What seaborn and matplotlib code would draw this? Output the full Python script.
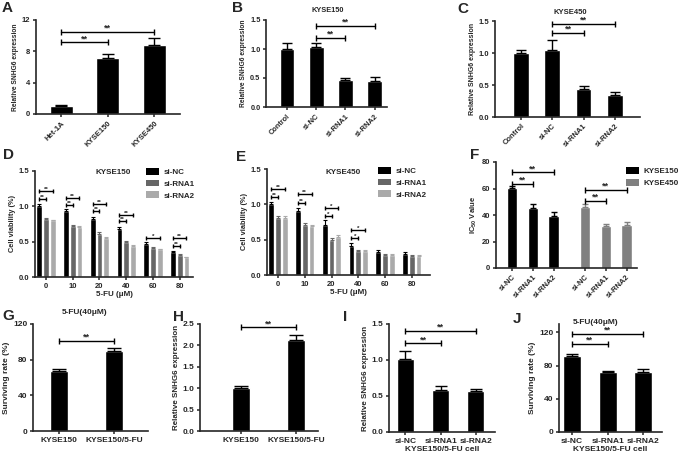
import matplotlib
matplotlib.use('Agg')
import matplotlib.pyplot as plt
from matplotlib.patches import Patch
import numpy as np
import pandas as pd
import seaborn as sns

sns.set_style('ticks')
plt.rcParams['font.family'] = ['Liberation Sans', 'DejaVu Sans']
plt.rcParams['font.weight'] = 'bold'
plt.rcParams['axes.labelweight'] = 'bold'
plt.rcParams['axes.titleweight'] = 'bold'
plt.rcParams['axes.linewidth'] = 1.2
plt.rcParams['mathtext.default'] = 'regular'

# ---- data ----
a_cells = ['Het-1A', 'KYSE150', 'KYSE450']
a_mean = [1.0, 7.2, 8.8]
a_err = [0.1, 0.5, 0.9]

si4 = ['Control', 'si-NC', 'si-RNA1', 'si-RNA2']
b_mean = [1.0, 1.04, 0.46, 0.45]
b_err = [0.11, 0.06, 0.04, 0.07]
c_mean = [1.0, 1.05, 0.44, 0.35]
c_err = [0.04, 0.16, 0.05, 0.04]

dose = ['0', '10', '20', '40', '60', '80']
si3 = ['si-NC', 'si-RNA1', 'si-RNA2']
d_nc = [1.01, 0.93, 0.82, 0.68, 0.46, 0.35]
d_r1 = [0.82, 0.72, 0.61, 0.49, 0.41, 0.31]
d_r2 = [0.80, 0.71, 0.55, 0.44, 0.39, 0.28]
d_nc_err = [0.02, 0.03, 0.03, 0.03, 0.04, 0.02]
d_r1_err = [0.01, 0.01, 0.02, 0.02, 0.01, 0.01]
d_r2_err = [0.01, 0.01, 0.01, 0.01, 0.01, 0.01]
d_sig = [(0, 1, 1.10, '**'), (0, 2, 1.22, '**'), (1, 1, 1.02, '**'), (1, 2, 1.12, '**'),
         (2, 1, 0.93, '**'), (2, 2, 1.03, '**'), (3, 1, 0.79, '**'), (3, 2, 0.88, '**'),
         (4, 2, 0.55, '*'), (5, 1, 0.44, '**'), (5, 2, 0.55, '**')]

e_nc = [1.00, 0.91, 0.71, 0.41, 0.32, 0.30]
e_r1 = [0.81, 0.71, 0.50, 0.34, 0.29, 0.27]
e_r2 = [0.80, 0.70, 0.54, 0.34, 0.29, 0.27]
e_nc_err = [0.03, 0.04, 0.07, 0.04, 0.03, 0.02]
e_r1_err = [0.02, 0.02, 0.02, 0.01, 0.01, 0.02]
e_r2_err = [0.03, 0.01, 0.02, 0.01, 0.01, 0.01]
e_sig = [(0, 1, 1.10, '**'), (0, 2, 1.21, '**'), (1, 1, 1.02, '**'), (1, 2, 1.14, '**'),
         (2, 1, 0.84, '*'), (2, 2, 0.95, '*'), (3, 1, 0.52, '*'), (3, 2, 0.63, '*')]

f_150 = [60.5, 45.0, 39.5]
f_150_err = [1.5, 3.0, 2.5]
f_450 = [46.0, 31.5, 32.5]
f_450_err = [2.5, 1.5, 2.0]

g_cells = ['KYSE150', 'KYSE150/5-FU']
g_mean = [67, 90]
g_err = [3, 3]
h_mean = [1.0, 2.12]
h_err = [0.05, 0.12]
i_mean = [1.02, 0.59, 0.57]
i_err = [0.10, 0.05, 0.03]
j_mean = [91, 72, 72]
j_err = [3, 2, 4]

W, H = 685, 457
fig = plt.figure(figsize=(W / 100, H / 100), dpi=100)


def px_ax(l, t, r, b):
    return fig.add_axes([l / W, 1 - b / H, (r - l) / W, (b - t) / H])


def ftext(x, y, s, **kw):
    fig.text(x / W, 1 - y / H, s, **kw)


def style(ax, ylim, yticks, fs, xlim=None):
    sns.despine(ax=ax)
    ax.set_ylim(ylim)
    ax.set_yticks(yticks)
    if xlim is not None:
        ax.set_xlim(xlim)
    ax.tick_params(labelsize=fs, length=2.5, width=1.1, pad=1.5)
    for lab in ax.get_xticklabels() + ax.get_yticklabels():
        lab.set_fontweight('bold')


def simple_bars(ax, cats, mean, err, cap, width=0.5):
    sns.barplot(x=cats, y=mean, color='black', width=width, saturation=1,
                errorbar=None, ax=ax)
    xs = [p.get_x() + p.get_width() / 2 for p in ax.patches]
    ax.errorbar(xs, mean, yerr=[np.zeros(len(mean)), err], fmt='none',
                ecolor='black', elinewidth=1, capsize=cap, capthick=1)
    return xs


def bracket(ax, x1, x2, y, txt, fs=6.5, ms=4):
    ax.plot([x1, x2], [y, y], color='black', lw=1, marker='|', ms=ms, mew=1,
            clip_on=False)
    ax.annotate(txt, ((x1 + x2) / 2, y), xytext=(0, -0.6), textcoords='offset points',
                ha='center', va='bottom', fontsize=fs, fontweight='bold')


def rot_labels(ax, labels, fs):
    ax.set_xticks(ax.get_xticks())
    ax.set_xticklabels(labels, rotation=45, ha='right', rotation_mode='anchor',
                       fontsize=fs, fontweight='bold')


# ---- A ----
ax = px_ax(36, 20, 180, 114)
xs = simple_bars(ax, a_cells, a_mean, a_err, cap=4.5)
style(ax, (0, 12), [0, 4, 8, 12], 5.5, xlim=(-0.54, 2.55))
rot_labels(ax, a_cells, 5.5)
ax.set_ylabel('Relative SNHG6 expression', fontsize=4.8, labelpad=2)
bracket(ax, xs[0], xs[1], 9.15, '**')
bracket(ax, xs[0], xs[2], 10.5, '**')

# ---- B ----
ax = px_ax(266, 20, 387, 107)
xs = simple_bars(ax, si4, b_mean, b_err, cap=3.5)
style(ax, (0, 1.5), [0, 0.5, 1.0, 1.5], 5.3, xlim=(-0.72, 3.42))
ax.set_yticklabels(['0.0', '0.5', '1.0', '1.5'])
rot_labels(ax, si4, 5.3)
ax.set_ylabel('Relative SNHG6 expression', fontsize=4.8, labelpad=2)
bracket(ax, xs[1], xs[2], 1.195, '**')
bracket(ax, xs[1], xs[3], 1.397, '**')
ftext(328, 11, 'KYSE150', ha='center', va='center', fontsize=5.3, fontweight='bold')

# ---- C ----
ax = px_ax(495, 21, 640, 117)
xs = simple_bars(ax, si4, c_mean, c_err, cap=3.5)
style(ax, (0, 1.5), [0, 0.5, 1.0, 1.5], 5.5, xlim=(-0.83, 3.8))
ax.set_yticklabels(['0.0', '0.5', '1.0', '1.5'])
rot_labels(ax, si4, 5.5)
ax.set_ylabel('Relative SNHG6 expression', fontsize=5, labelpad=2)
bracket(ax, xs[1], xs[2], 1.31, '**')
bracket(ax, xs[1], xs[3], 1.46, '**')
ftext(570, 13, 'KYSE450', ha='center', va='center', fontsize=5.5, fontweight='bold')


# ---- D / E ----
def dose_panel(box, nc, r1, r2, nce, r1e, r2e, sig, title, title_xy, leg_xy, xlim):
    ax = px_ax(*box)
    df = pd.DataFrame({
        'dose': dose * 3,
        'group': np.repeat(si3, len(dose)),
        'value': nc + r1 + r2,
    })
    colors = ['#000000', '#666666', '#aaaaaa']
    sns.barplot(data=df, x='dose', y='value', hue='group', order=dose, hue_order=si3,
                palette=colors, width=0.76, gap=0.15, saturation=1, errorbar=None,
                legend=False, ax=ax)
    centers = [[p.get_x() + p.get_width() / 2 for p in cont] for cont in ax.containers]
    for k, (vals, errs) in enumerate([(nc, nce), (r1, r1e), (r2, r2e)]):
        ax.errorbar(centers[k], vals, yerr=[np.zeros(len(vals)), errs], fmt='none',
                    ecolor=colors[k], elinewidth=0.8, capsize=1.5, capthick=0.8)
    for gi, hi, y, txt in sig:
        bracket(ax, centers[0][gi], centers[hi][gi], y, txt, fs=4.5, ms=3)
    style(ax, (0, 1.5), [0, 0.5, 1.0, 1.5], 5.5, xlim=xlim)
    ax.set_yticklabels(['0.0', '0.5', '1.0', '1.5'])
    ax.set_xlabel('5-FU (μM)', fontsize=5.8, labelpad=1)
    ax.set_ylabel('Cell viability (%)', fontsize=5.3, labelpad=2)
    ftext(title_xy[0], title_xy[1], title, ha='center', va='center', fontsize=5.8,
          fontweight='bold')
    handles = [Patch(facecolor=c, edgecolor='none') for c in colors]
    ax.legend(handles, si3, loc='upper left', bbox_to_anchor=(leg_xy[0] / W, 1 - leg_xy[1] / H),
              bbox_transform=fig.transFigure, frameon=False, fontsize=5.8,
              handlelength=1.6, handleheight=0.9, handletextpad=0.6, labelspacing=0.45,
              borderaxespad=0, borderpad=0)
    return ax


dose_panel((35, 171, 193, 277), d_nc, d_r1, d_r2, d_nc_err, d_r1_err, d_r2_err, d_sig,
           'KYSE150', (113, 173), (146, 168), (-0.41, 5.5))
dose_panel((267, 169, 430, 275), e_nc, e_r1, e_r2, e_nc_err, e_r1_err, e_r2_err, e_sig,
           'KYSE450', (343, 172), (378, 167), (-0.41, 5.68))

# ---- F ----
ax = px_ax(496, 162, 637, 268)
f_pos = [0, 1, 2, 3.5, 4.5, 5.5]
df_f = pd.DataFrame({
    'pos': f_pos,
    'value': f_150 + f_450,
    'line': ['KYSE150'] * 3 + ['KYSE450'] * 3,
})
f_colors = {'KYSE150': '#000000', 'KYSE450': '#808080'}
sns.barplot(data=df_f, x='pos', y='value', hue='line', native_scale=True, dodge=False,
            width=0.5, palette=f_colors, saturation=1, errorbar=None, legend=False, ax=ax)
ax.errorbar(f_pos[:3], f_150, yerr=[np.zeros(3), f_150_err], fmt='none', ecolor='black',
            elinewidth=1, capsize=2.5, capthick=1)
ax.errorbar(f_pos[3:], f_450, yerr=[np.zeros(3), f_450_err], fmt='none', ecolor='#808080',
            elinewidth=1, capsize=2.5, capthick=1)
style(ax, (0, 80), [0, 20, 40, 60, 80], 5.5, xlim=(-0.77, 6.0))
ax.set_xticks(f_pos)
ax.set_xticklabels(si3 + si3, rotation=45, ha='right', rotation_mode='anchor',
                   fontsize=5.5, fontweight='bold')
ax.set_xlabel('')
ax.set_ylabel('IC$_{50}$ Value', fontsize=5.5, labelpad=2)
bracket(ax, f_pos[0], f_pos[1], 63.3, '**')
bracket(ax, f_pos[0], f_pos[2], 72.2, '**')
bracket(ax, f_pos[3], f_pos[4], 50.6, '**')
bracket(ax, f_pos[3], f_pos[5], 59.0, '**')
handles = [Patch(facecolor=c, edgecolor='none') for c in f_colors.values()]
ax.legend(handles, list(f_colors.keys()), loc='upper left',
          bbox_to_anchor=(626 / W, 1 - 167 / H), bbox_transform=fig.transFigure,
          frameon=False, fontsize=5.8, handlelength=1.6, handleheight=0.9,
          handletextpad=0.6, labelspacing=0.5, borderaxespad=0, borderpad=0)

# ---- G ----
ax = px_ax(33, 324, 148, 431)
xs = simple_bars(ax, g_cells, g_mean, g_err, cap=5, width=0.33)
style(ax, (0, 120), [0, 40, 80, 120], 6, xlim=(-0.47, 1.62))
ax.set_ylabel('Surviving rate (%)', fontsize=6, labelpad=2)
bracket(ax, xs[0], xs[1], 101, '**', ms=5)
ftext(85, 313, '5-FU(40μM)', ha='center', va='center', fontsize=6, fontweight='bold')

# ---- H ----
ax = px_ax(200, 324, 318, 431)
xs = simple_bars(ax, g_cells, h_mean, h_err, cap=5, width=0.33)
style(ax, (0, 2.5), [0, 0.5, 1.0, 1.5, 2.0, 2.5], 6, xlim=(-0.75, 1.4))
ax.set_yticklabels(['0.0', '0.5', '1.0', '1.5', '2.0', '2.5'])
ax.set_ylabel('Relative SNHG6 expression', fontsize=5.8, labelpad=2)
bracket(ax, xs[0], xs[1], 2.42, '**', ms=5)

# ---- I ----
ax = px_ax(389, 324, 495, 432)
xs = simple_bars(ax, si3, i_mean, i_err, cap=4, width=0.48)
style(ax, (0, 1.5), [0, 0.5, 1.0, 1.5], 6, xlim=(-0.47, 2.55))
ax.set_yticklabels(['0.0', '0.5', '1.0', '1.5'])
ax.set_ylabel('Relative SNHG6 expression', fontsize=5.8, labelpad=2)
ax.set_xlabel('KYSE150/5-FU cell', fontsize=6, labelpad=1)
bracket(ax, xs[0], xs[1], 1.23, '**', ms=5)
bracket(ax, xs[0], xs[2], 1.40, '**', ms=5)

# ---- J ----
ax = px_ax(559, 324, 662, 432)
xs = simple_bars(ax, si3, j_mean, j_err, cap=4, width=0.5)
style(ax, (0, 130), [0, 40, 80, 120], 6, xlim=(-0.37, 2.53))
ax.set_ylabel('Surviving rate (%)', fontsize=6, labelpad=2)
ax.set_xlabel('KYSE150/5-FU cell', fontsize=6, labelpad=1)
bracket(ax, xs[0], xs[1], 106, '**', ms=5)
bracket(ax, xs[0], xs[2], 118, '**', ms=5)
ftext(596, 322, '5-FU(40μM)', ha='center', va='center', fontsize=6, fontweight='bold')

# ---- panel letters ----
for lab, x, y in [('A', 2, 1), ('B', 232, 1), ('C', 457, 2), ('D', 3, 148), ('E', 236, 150),
                  ('F', 470, 148), ('G', 2, 309), ('H', 173, 310), ('I', 343, 310),
                  ('J', 513, 312)]:
    ftext(x, y, lab, ha='left', va='top', fontsize=11, fontweight='bold')

fig.savefig('out.png', dpi=100)
